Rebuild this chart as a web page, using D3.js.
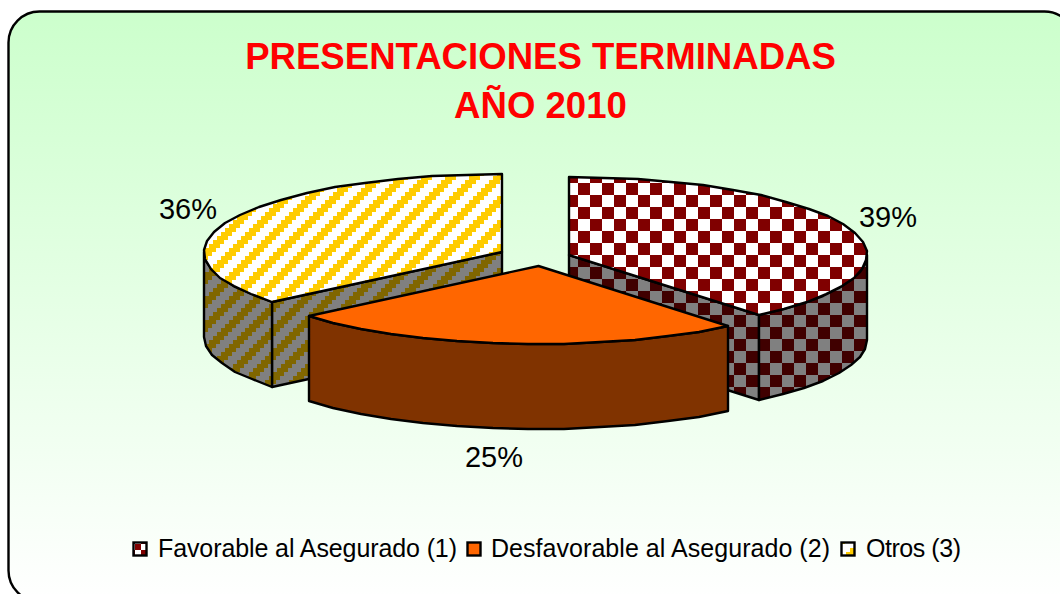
<!DOCTYPE html>
<html><head><meta charset="utf-8">
<style>html,body{margin:0;padding:0;background:#fff;overflow:hidden}svg{display:block}text{font-family:"Liberation Sans",Arial,sans-serif}</style>
<script src="https://cdnjs.cloudflare.com/ajax/libs/d3/7.8.5/d3.min.js"></script>
</head><body>
<script>
const categories = ["Favorable al Asegurado (1)", "Desfavorable al Asegurado (2)", "Otros (3)"];
const values = [39, 25, 36];
const percentLabels = ["39%", "25%", "36%"];
const titleLines = ["PRESENTACIONES TERMINADAS", "AÑO 2010"];

const W = 1060, H = 594, RX = 298, RY = 78, DEPTH = 85;
const apexes = [[569, 255], [538.5, 266], [502, 252]];
const labelPos = [[888, 227], [494, 467], [188, 219]];
const legendX = [133, 467, 841], legendTextX = [158, 491, 866], legendW = [299, 339, 95];

const svg = d3.select("body").append("svg").attr("width", W).attr("height", H);
const defs = svg.append("defs");
const grad = defs.append("linearGradient").attr("id", "bg").attr("x1", 0).attr("y1", 0).attr("x2", 0).attr("y2", 1);
grad.append("stop").attr("offset", 0).attr("stop-color", "#ccffcc");
grad.append("stop").attr("offset", 1).attr("stop-color", "#ffffff");

function checker(id, bg, fg, size, ox, oy) {
  const p = defs.append("pattern").attr("id", id).attr("patternUnits", "userSpaceOnUse")
    .attr("width", size * 2).attr("height", size * 2).attr("x", ox).attr("y", oy);
  p.append("rect").attr("width", size * 2).attr("height", size * 2).attr("fill", bg);
  p.append("rect").attr("x", size).attr("width", size).attr("height", size).attr("fill", fg).attr("shape-rendering", "crispEdges");
  p.append("rect").attr("y", size).attr("width", size).attr("height", size).attr("fill", fg).attr("shape-rendering", "crispEdges");
}
function stripes(id, bg, fg, period, step, width, ox, oy) {
  const p = defs.append("pattern").attr("id", id).attr("patternUnits", "userSpaceOnUse")
    .attr("width", period).attr("height", period).attr("x", ox).attr("y", oy);
  p.append("rect").attr("width", period).attr("height", period).attr("fill", bg);
  d3.range(0, period, step).forEach(y => {
    [-period, 0].forEach(s => {
      p.append("rect").attr("x", period - y - step + s).attr("y", y).attr("width", width).attr("height", step)
        .attr("fill", fg).attr("shape-rendering", "crispEdges");
    });
  });
}
checker("chkTop", "#ffffff", "#800000", 12, 578, 171);
checker("chkSide", "#808080", "#400000", 12, 578, 171);
stripes("strTop", "#ffffff", "#ffcc00", 24, 4, 11, 425, 176);
stripes("strSide", "#808080", "#806600", 24, 4, 11, 425, 176);
checker("chkLeg", "#ffffff", "#800000", 6, 141, 544);
stripes("strLeg", "#ffffff", "#ffcc00", 24, 4, 11, 834, 544);

const topFill = ["url(#chkTop)", "#ff6600", "url(#strTop)"];
const sideFill = ["url(#chkSide)", "#803300", "url(#strSide)"];
const legFill = ["url(#chkLeg)", "#ff6600", "url(#strLeg)"];

svg.append("rect").attr("x", 8.5).attr("y", 11.5).attr("width", 1067).attr("height", 590)
  .attr("rx", 31).attr("ry", 31).attr("fill", "url(#bg)").attr("stroke", "#000").attr("stroke-width", 2.4);

svg.selectAll("text.title").data(titleLines).join("text").attr("class", "title")
  .attr("x", 540.5).attr("y", (d, i) => 69 + i * 49).attr("text-anchor", "middle")
  .attr("font-size", 36.6).attr("font-weight", "bold").attr("fill", "#ff0000").text(d => d);

const pie = d3.pie().sort(null)(values);
const px = d3.scaleLinear().domain([-1, 1]).range([-RX, RX]);
const py = d3.scaleLinear().domain([-1, 1]).range([-RY, RY]);
const STEP = 7 * Math.PI / 180;

function arcPts(a0, a1, c, dy) {
  const n = Math.max(1, Math.ceil((a1 - a0) / STEP));
  return d3.range(n + 1).map(i => {
    const a = a0 + (a1 - a0) * i / n;
    return [Math.round(c[0] + px(Math.sin(a))), Math.round(c[1] + py(-Math.cos(a)) + dy)];
  });
}
const line = d3.line();
const HALF = Math.PI / 2, ONEHALF = 3 * Math.PI / 2;
const style = s => s.attr("stroke", "#000").attr("stroke-width", 2.4).attr("stroke-linejoin", "round");

// Painter's order: back-left slice, back-right slice, front slice
[2, 0, 1].forEach(i => {
  const s = pie[i], c = apexes[i], g = svg.append("g");
  const a0 = s.startAngle, a1 = s.endAngle;
  if (i === 0 || i === 2) {
    const edge = i === 0 ? a1 : a0;
    const e = arcPts(edge, edge, c, 0)[0];
    g.append("path").attr("d", line([c, e, [e[0], e[1] + DEPTH], [c[0], c[1] + DEPTH]]) + "Z")
      .attr("fill", sideFill[i]).call(style);
  }
  const f0 = Math.max(a0, HALF), f1 = Math.min(a1, ONEHALF);
  if (f1 > f0) {
    const top = arcPts(f0, f1, c, 0), bot = arcPts(f0, f1, c, DEPTH).reverse();
    g.append("path").attr("d", line(top.concat(bot)) + "Z").attr("fill", sideFill[i]).call(style);
  }
  g.append("path").attr("d", line([c].concat(arcPts(a0, a1, c, 0))) + "Z").attr("fill", topFill[i]).call(style);
});

svg.selectAll("text.pct").data(percentLabels).join("text").attr("class", "pct")
  .attr("x", (d, i) => labelPos[i][0]).attr("y", (d, i) => labelPos[i][1]).attr("text-anchor", "middle")
  .attr("font-size", 29).attr("fill", "#000").text(d => d);

const leg = svg.selectAll("g.leg").data(categories).join("g").attr("class", "leg");
leg.append("rect").attr("x", (d, i) => legendX[i] + 0.5).attr("y", 542.5).attr("width", 13).attr("height", 13)
  .attr("fill", (d, i) => legFill[i]).attr("stroke", "#000").attr("stroke-width", 2.4);
leg.append("text").attr("x", (d, i) => legendTextX[i]).attr("y", 557)
  .attr("textLength", (d, i) => legendW[i]).attr("lengthAdjust", "spacing")
  .attr("font-size", 25).attr("fill", "#000").text(d => d);
</script>
</body></html>
